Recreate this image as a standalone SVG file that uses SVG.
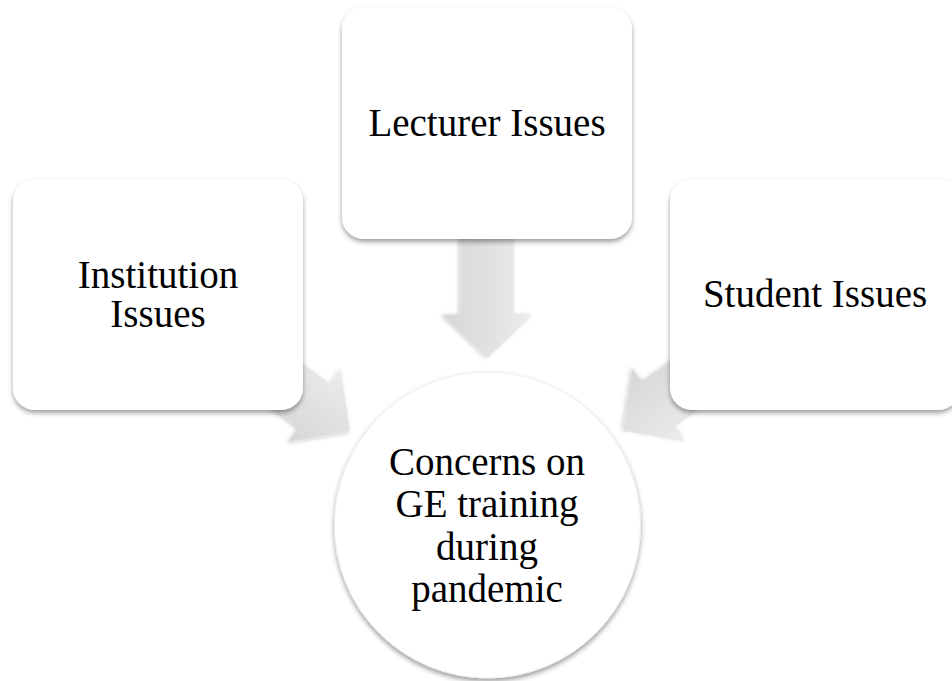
<svg xmlns="http://www.w3.org/2000/svg" width="952" height="681" viewBox="0 0 952 681">
  <style>
    .box { fill: #ffffff; filter: url(#shadow); }
    .label { font-family: "Liberation Serif", "DejaVu Serif", serif; font-size: 39px; fill: #000000; text-anchor: middle; }
    .arrow { fill: url(#arrowGrad); filter: url(#ashadow); }
  </style>
  <defs>
    <filter id="shadow" x="-20%" y="-20%" width="140%" height="140%">
      <feDropShadow dx="0" dy="3" stdDeviation="2.5" flood-color="#000000" flood-opacity="0.38"/>
    </filter>
    <filter id="ashadow" x="-20%" y="-20%" width="140%" height="140%">
      <feDropShadow dx="0" dy="2" stdDeviation="2" flood-color="#000000" flood-opacity="0.22"/>
    </filter>
    <linearGradient id="arrowGrad" x1="0" y1="0" x2="0" y2="1">
      <stop offset="0" stop-color="#ececec"/>
      <stop offset="1" stop-color="#d6d6d6"/>
    </linearGradient>
  </defs>

  <rect width="952" height="681" fill="#ffffff"/>

  <g id="connectors">
    <path class="arrow" transform="translate(487.5,358) rotate(90)" d="M0,0 L-43,-45 L-43,-26.5 L-200,-26.5 L-200,26.5 L-43,26.5 L-43,45 Z"/>
    <path class="arrow" transform="translate(350,431) rotate(35.8)" d="M0,0 L-44,-45 L-44,-27 L-200,-27 L-200,27 L-44,27 L-44,45 Z"/>
    <path class="arrow" transform="translate(623,431) rotate(144.2)" d="M0,0 L-44,-45 L-44,-27 L-200,-27 L-200,27 L-44,27 L-44,45 Z"/>
  </g>

  <g id="lecturer">
    <rect class="box" x="342" y="7" width="290" height="232" rx="22" ry="22"/>
    <text class="label" x="487" y="136">Lecturer Issues</text>
  </g>

  <g id="institution">
    <rect class="box" x="13" y="179" width="290" height="231" rx="22" ry="22"/>
    <text class="label" x="158" y="288">Institution</text>
    <text class="label" x="158" y="327">Issues</text>
  </g>

  <g id="student">
    <rect class="box" x="670" y="179" width="290" height="231" rx="22" ry="22"/>
    <text class="label" x="815" y="307">Student Issues</text>
  </g>

  <g id="concerns">
    <circle class="box" cx="487.5" cy="525" r="153" stroke="#efefef" stroke-width="1"/>
    <text class="label" x="487" y="475">Concerns on</text>
    <text class="label" x="487" y="517">GE training</text>
    <text class="label" x="487" y="560">during</text>
    <text class="label" x="487" y="602">pandemic</text>
  </g>
</svg>
